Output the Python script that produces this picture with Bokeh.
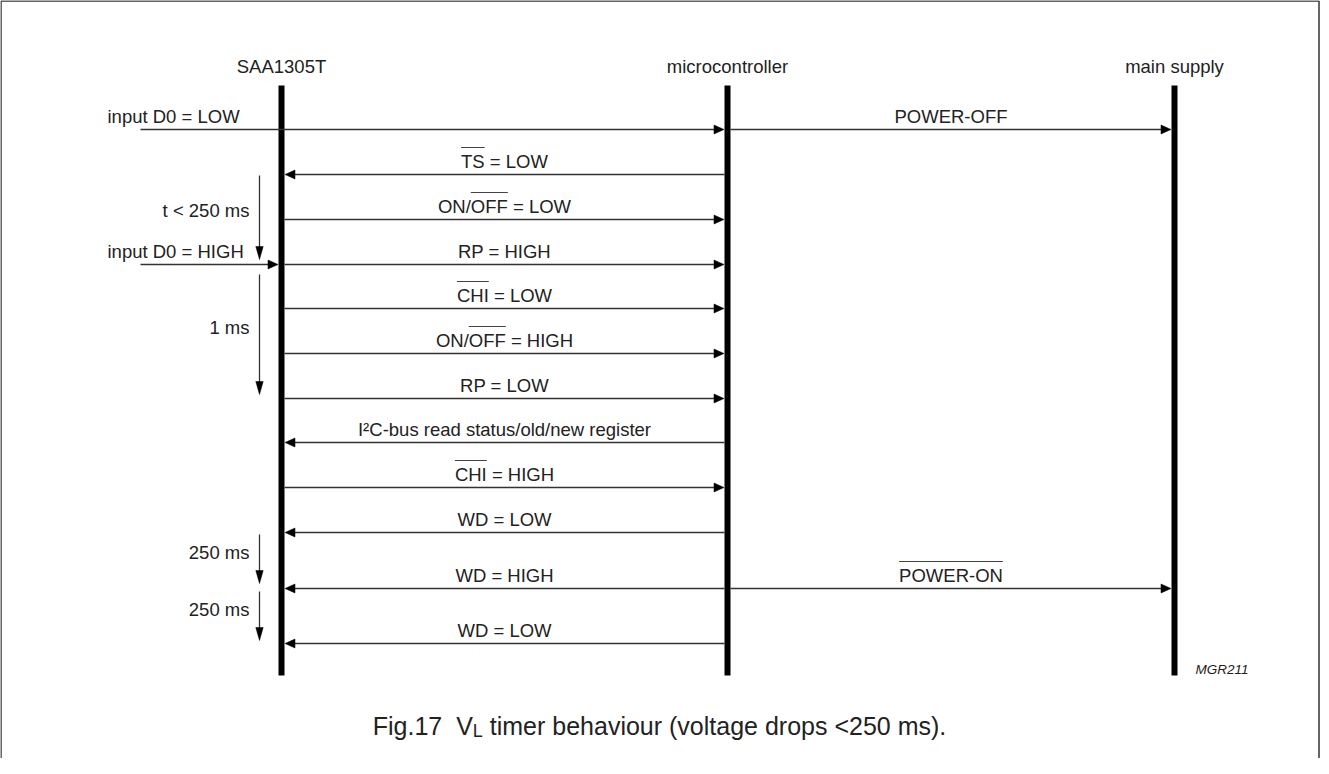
from bokeh.plotting import figure
from bokeh.models import Range1d, ColumnDataSource
from bokeh.embed import file_html
from bokeh.resources import INLINE
from bokeh.core.properties import value

# ---------------- data ----------------
participants = ["SAA1305T", "microcontroller", "main supply"]
# vertical (time-ordered) position of each event row in the diagram
step_t = [137, 182, 227, 272, 316, 361, 406, 450, 495, 540, 596, 651]

msg_text = ["input D0 = LOW", "POWER-OFF", "TS = LOW", "ON/OFF = LOW", "RP = HIGH",
            "input D0 = HIGH", "CHI = LOW", "ON/OFF = HIGH", "RP = LOW",
            "I\u00b2C-bus read status/old/new register", "CHI = HIGH", "WD = LOW",
            "WD = HIGH", "POWER-ON", "WD = LOW"]
msg_src = ["input", "microcontroller", "microcontroller", "SAA1305T", "SAA1305T",
           "input", "SAA1305T", "SAA1305T", "SAA1305T", "microcontroller",
           "SAA1305T", "microcontroller", "microcontroller", "microcontroller",
           "microcontroller"]
msg_dst = ["microcontroller", "main supply", "SAA1305T", "microcontroller",
           "microcontroller", "SAA1305T", "microcontroller", "microcontroller",
           "microcontroller", "SAA1305T", "microcontroller", "SAA1305T", "SAA1305T",
           "main supply", "SAA1305T"]
msg_step = [0, 0, 1, 2, 3, 3, 4, 5, 6, 7, 8, 9, 10, 10, 11]
msg_bar = ["", "", "TS", "OFF", "", "", "CHI", "OFF", "", "", "CHI", "", "",
           "POWER-ON", ""]

interval_text = ["t < 250 ms", "1 ms", "250 ms", "250 ms"]
interval_start = [183, 282, 542, 599]
interval_end = [267, 402, 591, 648]

caption_main = "Fig.17\u00a0\u00a0V"
caption_sub = "L"
caption_rest = "\u00a0timer behaviour (voltage drops <250 ms)."
drawing_code = "MGR211"

# ---------------- layout / style ----------------
W, H = 1320, 758
lane_x = {"input": 148, "SAA1305T": 289, "microcontroller": 735, "main supply": 1182}
LIFE_TOP, LIFE_BOT = 93, 683
HALF = 3
HEAD_LEN, HEAD_HW = 10, 4.5
VHEAD_LEN, VHEAD_HW = 13, 3.7
LABEL_LEFT = 115
TIME_X = 267
TIME_LABEL_RIGHT = 257
FS = 18.5
FONT = "Liberation Sans"
TXT = "#222222"
LINE = "#333333"

AW = {' ': 278, '\u00a0': 278, '!': 278, '(': 333, ')': 333, '-': 333, '.': 278,
      '/': 278, '<': 584, '=': 584, '\u00b2': 333}
for c in "0123456789":
    AW[c] = 556
AW.update(dict(zip("ABCDEFGHIJKLMNOPQRSTUVWXYZ",
                   [667, 667, 722, 722, 667, 611, 778, 722, 278, 500, 667, 556, 833,
                    722, 778, 667, 778, 722, 667, 611, 722, 667, 944, 667, 667, 611])))
AW.update(dict(zip("abcdefghijklmnopqrstuvwxyz",
                   [556, 556, 500, 556, 556, 278, 556, 556, 222, 222, 500, 222, 833,
                    556, 556, 556, 556, 333, 500, 278, 556, 500, 722, 500, 500, 500])))


def tw(s, size):
    return sum(AW.get(c, 556) for c in s) * size / 1000.0


p = figure(width=W, height=H, x_range=Range1d(8, 8 + W), y_range=Range1d(8 + H, 8),
           output_backend="svg", toolbar_location=None, min_border=0,
           x_axis_location=None, y_axis_location=None)
p.grid.visible = False
p.outline_line_color = None
p.background_fill_color = "white"
p.border_fill_color = "white"

# frame (bottom edge lies below the page)
p.line(x=[8.5, 8.5, 1326.5, 1326.5], y=[800, 8.5, 8.5, 800], line_color="#333333",
       line_width=1.5)

common = dict(text_font=value(FONT), text_color=TXT, text_baseline="middle")

# lifelines + headers
lx = [lane_x[n] for n in participants]
p.segment(x0=lx, y0=[LIFE_TOP] * 3, x1=lx, y1=[LIFE_BOT] * 3, line_color="black",
          line_width=6, line_cap="butt")
p.text(x=lx, y=[73.5] * 3, text=participants, text_align="center",
       text_font_size=value(f"{FS}px"), **common)

# messages
sx0, sx1, sy = [], [], []
hxs, hys = [], []
tx, ty, tt, ta = [], [], [], []
bx0, bx1, by = [], [], []
for text, s, d, k, bar in zip(msg_text, msg_src, msg_dst, msg_step, msg_bar):
    y = step_t[k]
    xs, xd = lane_x[s], lane_x[d]
    dr = 1 if xd > xs else -1
    x0 = xs if s == "input" else xs + dr * HALF
    tip = xd - dr * (HALF + 0.5)
    sx0.append(x0)
    sx1.append(tip - dr * HEAD_LEN * 0.5)
    sy.append(y)
    hxs.append([tip, tip - dr * HEAD_LEN, tip - dr * HEAD_LEN])
    hys.append([y, y - HEAD_HW, y + HEAD_HW])
    w = tw(text, FS)
    if s == "input":
        start = LABEL_LEFT
        tx.append(LABEL_LEFT)
        ta.append("left")
    else:
        cx = (xs + xd) / 2.0
        start = cx - w / 2.0
        tx.append(cx)
        ta.append("center")
    ty.append(y - 13.5)
    tt.append(text)
    if bar:
        i = text.index(bar)
        b0 = start + tw(text[:i], FS)
        bx0.append(b0)
        bx1.append(b0 + tw(bar, FS))
        by.append(y - 27)

p.segment(x0=sx0, y0=sy, x1=sx1, y1=sy, line_color=LINE, line_width=1.4)
p.patches(xs=hxs, ys=hys, fill_color="black", line_color="black", line_width=0.5)
p.text(source=ColumnDataSource(dict(x=tx, y=ty, text=tt, align=ta)), x="x", y="y",
       text="text", text_align="align", text_font_size=value(f"{FS}px"), **common)
p.segment(x0=bx0, y0=by, x1=bx1, y1=by, line_color="#444444", line_width=1.1)

# time intervals on the left
vx = [TIME_X] * len(interval_text)
vend = [e - VHEAD_LEN * 0.5 for e in interval_end]
p.segment(x0=vx, y0=interval_start, x1=vx, y1=vend, line_color=LINE, line_width=1.3)
p.patches(xs=[[TIME_X, TIME_X - VHEAD_HW, TIME_X + VHEAD_HW] for _ in interval_end],
          ys=[[e, e - VHEAD_LEN, e - VHEAD_LEN] for e in interval_end],
          fill_color="black", line_color="black", line_width=0.5)
p.text(x=[TIME_LABEL_RIGHT] * len(interval_text),
       y=[(a + b) / 2.0 - 7 for a, b in zip(interval_start, interval_end)],
       text=interval_text, text_align="right", text_font_size=value(f"{FS}px"),
       **common)

# drawing code
p.text(x=[1203], y=[677], text=[drawing_code], text_align="left",
       text_font_style="italic", text_font_size=value("13.5px"), **common)

# caption with subscript
CFS, SFS = 25, 18
ccen = 733
total = tw(caption_main, CFS) + tw(caption_sub, SFS) + tw(caption_rest, CFS)
c0 = 667 - total / 2.0
c1 = c0 + tw(caption_main, CFS)
c2 = c1 + tw(caption_sub, SFS)
p.text(x=[c0, c2], y=[ccen, ccen], text=[caption_main, caption_rest],
       text_align="left", text_font_size=value(f"{CFS}px"), **common)
p.text(x=[c1], y=[ccen + 5.5], text=[caption_sub], text_align="left",
       text_font_size=value(f"{SFS}px"), **common)

open("out.html", "w").write(file_html(p, INLINE))
